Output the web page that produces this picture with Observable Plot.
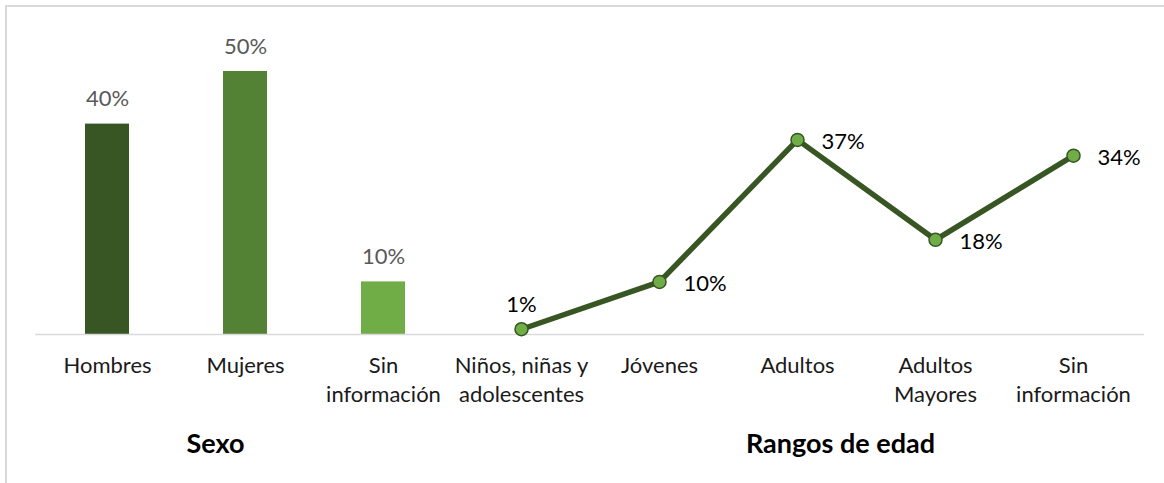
<!DOCTYPE html>
<html>
<head>
<meta charset="utf-8">
<script src="https://cdn.jsdelivr.net/npm/d3@7"></script>
<script src="https://cdn.jsdelivr.net/npm/@observablehq/plot@0.6"></script>
<style>
  html, body { margin: 0; padding: 0; background: #fff; overflow: hidden; }
  #wrap { position: relative; width: 1164px; height: 483px; }
  #border { position: absolute; left: 5px; top: 5px; width: 1200px; height: 600px; border: 2px solid #d9d9d9; box-sizing: border-box; }
  #chart { position: absolute; left: 0; top: 0; }
</style>
</head>
<body>
<div id="wrap"><div id="border"></div><div id="chart"></div></div>
<script>
// ---- Data ----
const sexCategories = ["Hombres", "Mujeres", "Sin información"];
const sexValues = [40, 50, 10];
const ageCategories = ["Niños, niñas y adolescentes", "Jóvenes", "Adultos", "Adultos Mayores", "Sin información"];
const ageValues = [1, 10, 37, 18, 34];
const tickLabels = ["Hombres", "Mujeres", "Sin\ninformación", "Niños, niñas y\nadolescentes", "Jóvenes", "Adultos", "Adultos\nMayores", "Sin\ninformación"];
const groupLabels = ["Sexo", "Rangos de edad"];

// ---- Build tables ----
const sexData = sexCategories.map((c, i) => ({key: "S|" + c, cat: c, value: sexValues[i]}));
const ageData = ageCategories.map((c, i) => ({key: "E|" + c, cat: c, value: ageValues[i]}));
const xDomain = [...sexData.map(d => d.key), ...ageData.map(d => d.key)];

const font = "Lato, 'Noto Sans', sans-serif";
const fs = 22;

const chart = Plot.plot({
  width: 1164,
  height: 483,
  marginLeft: 35,
  marginRight: 20,
  marginTop: 71,
  marginBottom: 149,
  style: {fontFamily: font, background: "transparent", overflow: "visible"},
  x: {domain: xDomain, padding: 0, axis: null},
  y: {domain: [0, 50], axis: null},
  color: {domain: sexCategories, range: ["#375623", "#548235", "#70ad47"]},
  marks: [
    Plot.barY(sexData, {x: "key", y: "value", fill: "cat", insetLeft: 47, insetRight: 47}),
    Plot.ruleY([0], {stroke: "#d9d9d9", strokeWidth: 1.5}),
    Plot.text(sexData, {x: "key", y: "value", text: d => d.value + "%", fill: "#595959", fontSize: fs, lineAnchor: "bottom", dy: -18}),
    Plot.line(ageData, {x: "key", y: "value", stroke: "#375623", strokeWidth: 5.5, curve: "linear"}),
    Plot.dot(ageData, {x: "key", y: "value", r: 6.5, fill: "#70ad47", stroke: "#375623", strokeWidth: 1.5}),
    Plot.text(ageData.slice(0, 1), {x: "key", y: "value", text: d => d.value + "%", fill: "#000", fontSize: fs, lineAnchor: "bottom", dy: -17}),
    Plot.text(ageData.slice(1), {x: "key", y: "value", text: d => d.value + "%", fill: "#000", fontSize: fs, textAnchor: "start", lineAnchor: "middle", dx: 24, dy: 2}),
    Plot.axisX({domain: xDomain, tickSize: 0, tickPadding: 18, fontSize: fs, lineHeight: 1.32, label: null, tickFormat: (d) => tickLabels[xDomain.indexOf(d)], fill: "#1a1a1a"}),
    Plot.text([groupLabels[0]], {x: () => xDomain[1], frameAnchor: "bottom", dx: -30, dy: 118, lineAnchor: "bottom", fontSize: 27, fontWeight: "bold", fill: "#000"}),
    Plot.text([groupLabels[1]], {x: () => xDomain[5], frameAnchor: "bottom", dx: 43, dy: 118, lineAnchor: "bottom", fontSize: 27, fontWeight: "bold", fill: "#000"})
  ]
});
document.getElementById("chart").appendChild(chart);
</script>
</body>
</html>
